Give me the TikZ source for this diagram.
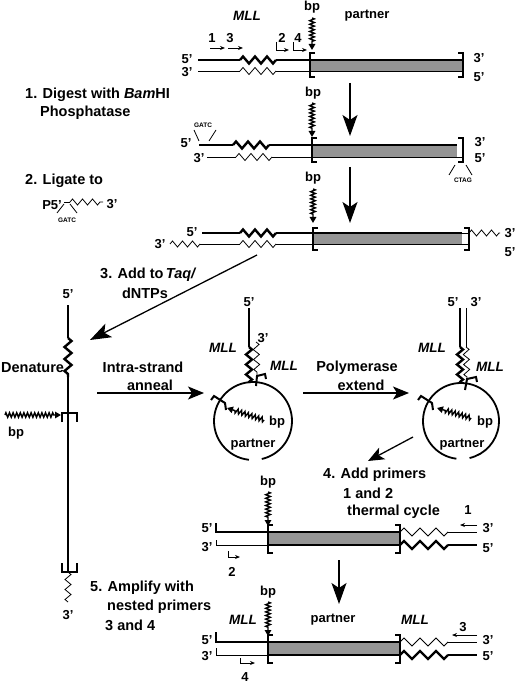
\documentclass[tikz,border=0pt]{standalone}
\usepackage{fontspec}
\setmainfont{Liberation Sans}
\usetikzlibrary{decorations.pathmorphing,arrows.meta}
\begin{document}
\begin{tikzpicture}[x=1pt,y=-1pt,
 lbl/.style={inner sep=0pt, font=\fontsize{14.5}{17}\selectfont\bfseries},
 sm/.style={inner sep=0pt, font=\fontsize{13}{15}\selectfont\bfseries},
 tiny/.style={inner sep=0pt, font=\fontsize{6.5}{7}\selectfont\bfseries},
 gene/.style={inner sep=0pt, font=\fontsize{13.5}{15}\selectfont\bfseries\itshape},
 thk/.style={line width=2.4pt},
 thn/.style={line width=0.8pt},
 brk/.style={line width=2pt},
 zz/.style={decorate, decoration={zigzag, segment length=12pt, amplitude=3.5pt}},
 zzs/.style={decorate, decoration={zigzag, segment length=10pt, amplitude=3pt}},
 zzl/.style={decorate, decoration={zigzag, segment length=16pt, amplitude=4pt}},
 bpw/.style={line width=1.4pt, -{Triangle[length=6pt,width=6.5pt]}, decorate,
   decoration={zigzag, segment length=3.6pt, amplitude=2.3pt, post length=7pt}},
 bigarr/.style={line width=1.3pt, -{Stealth[length=21pt,width=15pt,inset=5pt]}},
 medarr/.style={line width=1.3pt, -{Stealth[length=16pt,width=13pt,inset=4pt]}},
 prim/.style={line width=0.9pt, -{Stealth[length=5pt,width=4pt]}},
 shade/.style={fill=black!42},
]
\useasboundingbox (0,0) rectangle (520,684);

% ---------- Row 1 ----------
\node[gene] (mll1) at (247,16) {MLL};
\node[sm] (bp1) at (312,7) {bp};
\node[sm] (par1) at (367,16) {partner};
\draw[bpw] (312,18) -- (312,50);
\node[sm] (p1) at (212,38) {1};
\node[sm] (p3) at (230,38) {3};
\node[sm] (p2) at (282,38) {2};
\node[sm] (p4) at (298,38) {4};
\draw[prim] (210,48) -- (225,48);
\draw[prim] (228,48) -- (243,48);
\draw[prim] (276,42) -- (276,50) -- (289,50);
\draw[prim] (293,42) -- (293,50) -- (307,50);
\node[sm] (r1a) at (187,59) {5'};
\node[sm] (r1b) at (187,72) {3'};
\fill[shade] (310,60) rectangle (463,71);
\draw[thk] (198,60) -- (240,60);
\draw[thk,zz] (240,60) -- (276,60);
\draw[thk] (276,60) -- (463,60);
\draw[thn] (198,71) -- (240,71);
\draw[thn,zz] (240,71) -- (276,71);
\draw[thn] (276,71) -- (463,71);
\draw[brk] (315,53) -- (310,53) -- (310,77) -- (315,77);
\draw[brk] (458,53) -- (463,53) -- (463,77) -- (458,77);
\node[sm] (r1c) at (479,58) {3'};
\node[sm] (r1d) at (479,77) {5'};

\draw[bigarr] (350,83) -- (350,136);

% ---------- Row 2 ----------
\node[lbl,anchor=west] (s1) at (25,95) {1. Digest with \textit{Bam}HI};
\node[lbl,anchor=west] (s1b) at (40,113) {Phosphatase};
\node[sm] (bp2) at (313,93) {bp};
\draw[bpw] (312,103) -- (312,137);
\node[tiny] (gatc1) at (203,125) {GATC};
\draw[thn] (194,130) -- (199,141);
\draw[thn] (216,130) -- (209,141);
\node[sm] (r2a) at (186,143) {5'};
\node[sm] (r2b) at (199,158) {3'};
\fill[shade] (312,145) rectangle (457,157);
\draw[thk] (199,145) -- (233,145);
\draw[thk,zz] (233,145) -- (269,145);
\draw[thk] (269,145) -- (457,145);
\draw[thn] (207,157) -- (236,157);
\draw[thn,zz] (236,157) -- (272,157);
\draw[thn] (272,157) -- (463,157);
\draw[brk] (317,138) -- (312,138) -- (312,162) -- (317,162);
\draw[brk] (458,138) -- (463,138) -- (463,162) -- (458,162);
\node[sm] (r2c) at (480,142) {3'};
\node[sm] (r2d) at (480,158) {5'};
\node[tiny] (ctag) at (463,180) {CTAG};
\draw[thn] (455,165) -- (449,175);
\draw[thn] (466,165) -- (472,175);

\draw[bigarr] (350,167) -- (350,223);

% ---------- Row 3 ----------
\node[lbl,anchor=west] (s2) at (25,181) {2. Ligate to};
\node[sm,anchor=east] (p5) at (62,205) {P5'};
\draw[thn] (64,202) -- (70,202);
\draw[thn,zzs] (70,202) -- (103,202);
\node[sm] (a3) at (112,204) {3'};
\draw[thn] (64,204) -- (57,213);
\draw[thn] (70,204) -- (77,213);
\node[tiny] (gatc2) at (67,220) {GATC};

\node[sm] (bp3) at (313,178) {bp};
\draw[bpw] (313,189) -- (313,223);
\node[sm] (r3a) at (192,232) {5'};
\node[sm] (r3b) at (160,244) {3'};
\fill[shade] (313,233) rectangle (462,244);
\draw[thk] (202,233) -- (240,233);
\draw[thk,zz] (240,233) -- (276,233);
\draw[thk] (276,233) -- (462,233);
\draw[thn,zzs] (170,244) -- (200,244);
\draw[thn] (200,244) -- (240,244);
\draw[thn,zz] (240,244) -- (276,244);
\draw[thn] (276,244) -- (468,244);
\draw[thn] (462,233) -- (468,233);
\draw[brk] (318,228) -- (313,228) -- (313,250) -- (318,250);
\draw[brk] (464,228) -- (469,228) -- (469,250) -- (464,250);
\draw[thn,zzs] (469,233) -- (500,233);
\node[sm] (r3c) at (510,233) {3'};
\node[sm] (r3d) at (510,252) {5'};

\coordinate (t3s) at (257,255);
\coordinate (t3e) at (90,340);
\draw[bigarr] (t3s) -- (t3e);
\node[lbl,anchor=west] (s3) at (100,275) {3. Add to\,\textit{Taq/}};
\node[lbl] (s3b) at (145,293) {dNTPs};

% ---------- Denatured strand ----------
\node[sm] (d5) at (68,294) {5'};
\draw[thk] (68,305) -- (68,338);
\draw[thk,zz] (68,338) -- (68,377);
\draw[thk] (68,377) -- (68,572);
\node[lbl,anchor=west] (den) at (1,368) {Denature};
\draw[brk] (62,422) -- (62,413) -- (77,413) -- (77,422);
\draw[bpw] (5,415) -- (61,415);
\node[sm] (bpd) at (16,433) {bp};
\draw[brk] (62,563) -- (62,572) -- (77,572) -- (77,563);
\draw[thn,zzs] (68,572) -- (68,602);
\node[sm] (d3) at (68,615) {3'};

\node[lbl] (ia) at (143,367) {Intra-strand};
\node[lbl] (ib) at (150,385) {anneal};
\draw[medarr] (97,393) -- (204,393);

% ---------- Left circle ----------
\node[sm] (c5) at (249,302) {5'};
\draw[thk] (249,308) -- (249,347);
\draw[thk,zzs] (249,347) -- (249,383);
\node[sm] (c3) at (263,338) {3'};
\draw[thn,zzs] (256,342) -- (257,376);
\draw[brk] (256,386) -- (257,376) -- (265,374) -- (266,379);
\draw[line width=1.8pt] (253,421) ++(96:39) arc[start angle=96, end angle=437, radius=39];
\draw[brk] (211,400) -- (214,396) -- (225,403) -- (226,410);
\draw[bpw] (264,420) -- (227,408);
\node[sm] (cbp) at (277,422) {bp};
\node[sm] (cpar) at (253,445) {partner};
\node[gene] (cm1) at (223,348) {MLL};
\node[gene] (cm2) at (284,366) {MLL};

\node[lbl] (pa) at (357,368) {Polymerase};
\node[lbl] (pb) at (361,385) {extend};
\draw[medarr] (303,393) -- (409,393);

% ---------- Right circle ----------
\node[sm] (e5) at (453,302) {5'};
\node[sm] (e3) at (476,302) {3'};
\draw[thk] (460,308) -- (460,347);
\draw[thk,zzs] (460,347) -- (460,383);
\draw[thn] (466,308) -- (466,347);
\draw[thn,zzs] (466,347) -- (467,378);
\draw[brk] (465,390) -- (467,379) -- (476,377) -- (477,382);
\draw[line width=1.8pt] (461,421) ++(97:38) arc[start angle=97, end angle=437, radius=38];
\draw[brk] (418,400) -- (421,396) -- (432,403) -- (433,410);
\draw[bpw] (471,418) -- (437,408);
\node[sm] (ebp) at (485,422) {bp};
\node[sm] (epar) at (462,445) {partner};
\node[gene] (em1) at (432,348) {MLL};
\node[gene] (em2) at (490,367) {MLL};

\draw[medarr] (413,437) -- (368,461);
\node[lbl,anchor=west] (s4) at (323,475) {4. Add primers};
\node[lbl,anchor=west] (s4b) at (343,493) {1 and 2};
\node[lbl,anchor=west] (s4c) at (347,512) {thermal cycle};

% ---------- Row 4 ----------
\node[sm] (bp4) at (268,482) {bp};
\draw[bpw] (268,492) -- (268,526);
\node[sm] (r4a) at (207,528) {5'};
\node[sm] (r4b) at (207,547) {3'};
\fill[shade] (268,532) rectangle (400,545);
\draw[thk] (216,523) -- (216,532) -- (400,532);
\draw[thn] (216,540) -- (216,545) -- (268,545);
\draw[line width=1.4pt] (268,545) -- (400,545);
\draw[brk] (273,525) -- (268,525) -- (268,553) -- (273,553);
\draw[brk] (395,525) -- (400,525) -- (400,553) -- (395,553);
\draw[prim] (228,551) -- (228,557) -- (240,557);
\node[sm] (n2) at (232,572) {2};
\draw[thn,zzl] (400,532) -- (448,532);
\draw[thn] (448,532) -- (477,532);
\draw[thk,zzl] (400,545) -- (448,545);
\draw[thk] (448,545) -- (477,545);
\draw[prim] (477,525) -- (460,525);
\node[sm] (n1) at (468,510) {1};
\node[sm] (r4c) at (488,528) {3'};
\node[sm] (r4d) at (488,548) {5'};

\draw[bigarr] (339,560) -- (339,604);

\node[lbl,anchor=west] (s5) at (90,588) {5. Amplify with};
\node[lbl,anchor=west] (s5b) at (107,607) {nested primers};
\node[lbl,anchor=west] (s5c) at (105,625) {3 and 4};

% ---------- Row 5 ----------
\node[gene] (m5a) at (243,620) {MLL};
\node[sm] (par5) at (333,620) {partner};
\node[gene] (m5b) at (415,620) {MLL};
\node[sm] (bp5) at (268,592) {bp};
\draw[bpw] (268,602) -- (268,636);
\node[sm] (r5a) at (207,640) {5'};
\node[sm] (r5b) at (207,656) {3'};
\fill[shade] (268,642) rectangle (400,655);
\draw[thk] (216,632) -- (216,642) -- (400,642);
\draw[thn] (216,648) -- (216,655) -- (268,655);
\draw[line width=1.4pt] (268,655) -- (400,655);
\draw[brk] (273,635) -- (268,635) -- (268,663) -- (273,663);
\draw[brk] (395,635) -- (400,635) -- (400,663) -- (395,663);
\draw[prim] (240,658) -- (240,663) -- (255,663);
\node[sm] (n4) at (245,677) {4};
\draw[thn,zzl] (400,642) -- (448,642);
\draw[thn] (448,642) -- (477,642);
\draw[thk,zzl] (400,655) -- (448,655);
\draw[thk] (448,655) -- (477,655);
\draw[prim] (477,635) -- (452,635);
\node[sm] (n3) at (463,627) {3};
\node[sm] (r5c) at (488,640) {3'};
\node[sm] (r5d) at (488,656) {5'};
\end{tikzpicture}
\end{document}
